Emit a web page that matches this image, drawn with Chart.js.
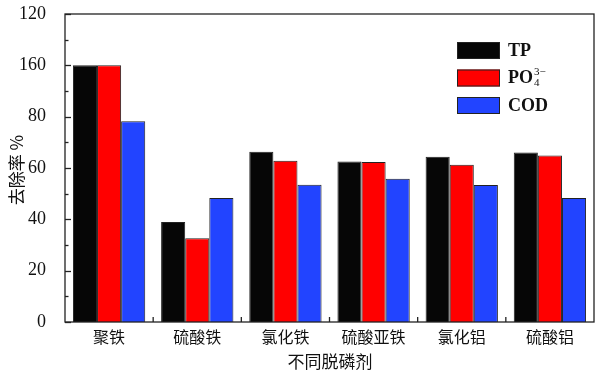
<!DOCTYPE html>
<html>
<head>
<meta charset="utf-8">
<script src="https://cdn.jsdelivr.net/npm/chart.js@4/dist/chart.umd.min.js"></script>
<style>
  body { margin: 0; background: #fff; }
  #wrap { width: 600px; height: 374px; }
</style>
</head>
<body>
<div id="wrap"><canvas id="bar-chart" width="600" height="374"></canvas></div>
<script>
// categories and values
const categories = ['聚铁', '硫酸铁', '氯化铁', '硫酸亚铁', '氯化铝', '硫酸铝'];
const tpValues = [100, 39, 66.3, 62.5, 64.4, 66];
const po4Values = [100, 32.6, 62.8, 62.3, 61.3, 64.9];
const codValues = [78.2, 48.3, 53.5, 55.8, 53.4, 48.3];
// tick labels as printed (the 100 line reads "160" in the original)
const yTickLabels = { 0: '0', 20: '20', 40: '40', 60: '60', 80: '80', 100: '160', 120: '120' };

const serif = '"Liberation Serif", "DejaVu Serif", serif';
const cjk = '"Noto Sans CJK SC", sans-serif';

// frame, inward ticks, titles and legend
const framePlugin = {
    id: 'frame',
    afterDraw(chart) {
        const ctx = chart.ctx;
        const a = chart.chartArea;
        const y = chart.scales.y;
        const x = chart.scales.x;
        ctx.save();
        ctx.strokeStyle = '#222';
        ctx.lineWidth = 1.3;
        ctx.strokeRect(a.left, a.top, a.right - a.left, a.bottom - a.top);

        // y ticks, pointing into the plot
        for (let v = 0; v <= 120; v += 10) {
            const py = Math.round(y.getPixelForValue(v)) + 0.5;
            const len = v % 20 === 0 ? 6 : 3.5;
            ctx.beginPath();
            ctx.moveTo(a.left, py);
            ctx.lineTo(a.left + len, py);
            ctx.stroke();
        }
        // x ticks between the groups
        for (let i = 1; i < categories.length; i++) {
            const px = (x.getPixelForValue(i - 1) + x.getPixelForValue(i)) / 2;
            ctx.beginPath();
            ctx.moveTo(px, a.bottom);
            ctx.lineTo(px, a.bottom - 5);
            ctx.stroke();
        }

        // axis titles
        ctx.fillStyle = '#111';
        ctx.font = '17px ' + cjk;
        ctx.textAlign = 'center';
        ctx.textBaseline = 'middle';
        ctx.fillText('不同脱磷剂', 330, 362);
        ctx.save();
        ctx.translate(17, 170);
        ctx.rotate(-Math.PI / 2);
        ctx.fillText('去除率 %', 0, 0);
        ctx.restore();

        // legend
        const items = chart.data.datasets;
        items.forEach((ds, i) => {
            const top = 42 + i * 27.5;
            ctx.fillStyle = ds.backgroundColor;
            ctx.fillRect(457, top, 43, 17);
            ctx.strokeStyle = '#222';
            ctx.lineWidth = 1;
            ctx.strokeRect(457.5, top + 0.5, 42, 16);
            ctx.fillStyle = '#111';
            ctx.textAlign = 'left';
            ctx.textBaseline = 'middle';
            ctx.font = '600 18px ' + serif;
            if (i === 1) {
                ctx.fillText('PO', 508, top + 9);
                const w = ctx.measureText('PO').width;
                ctx.font = '11px ' + serif;
                ctx.fillText('3−', 508 + w + 1, top + 3);
                ctx.fillText('4', 508 + w + 1, top + 14);
            } else {
                ctx.fillText(ds.label, 508, top + 9);
            }
        });
        ctx.restore();
    }
};

const ctx = document.getElementById('bar-chart').getContext('2d');
new Chart(ctx, {
    type: 'bar',
    data: {
        labels: categories,
        datasets: [
            {
                label: 'TP',
                data: tpValues,
                backgroundColor: '#060606',
                borderColor: '#222',
                borderWidth: 1,
            },
            {
                label: 'PO43-',
                data: po4Values,
                backgroundColor: '#ff0000',
                borderColor: '#222',
                borderWidth: 1,
            },
            {
                label: 'COD',
                data: codValues,
                backgroundColor: '#2244ff',
                borderColor: '#222',
                borderWidth: 1,
            },
        ],
    },
    options: {
        responsive: false,
        animation: false,
        layout: { padding: { top: 14, right: 6, left: 0, bottom: 0 } },
        plugins: {
            legend: { display: false },
            tooltip: { enabled: false },
        },
        datasets: {
            bar: { categoryPercentage: 0.82, barPercentage: 1 },
        },
        scales: {
            x: {
                grid: { display: false },
                border: { display: false },
                ticks: {
                    color: '#111',
                    padding: -3,
                    font: { family: cjk, size: 16 },
                },
                afterFit: scale => {
                    scale.height = 52;
                    scale.paddingLeft = 0;
                    scale.paddingRight = 0;
                },
            },
            y: {
                min: 0,
                max: 120,
                grid: { display: false },
                border: { display: false },
                ticks: {
                    stepSize: 10,
                    autoSkip: false,
                    color: '#111',
                    padding: 11,
                    font: { family: serif, size: 18 },
                    callback: value => yTickLabels[value] || '',
                },
                afterFit: scale => {
                    scale.width = 65;
                    scale.paddingTop = 0;
                    scale.paddingBottom = 0;
                },
            },
        },
    },
    plugins: [framePlugin],
});
</script>
</body>
</html>
